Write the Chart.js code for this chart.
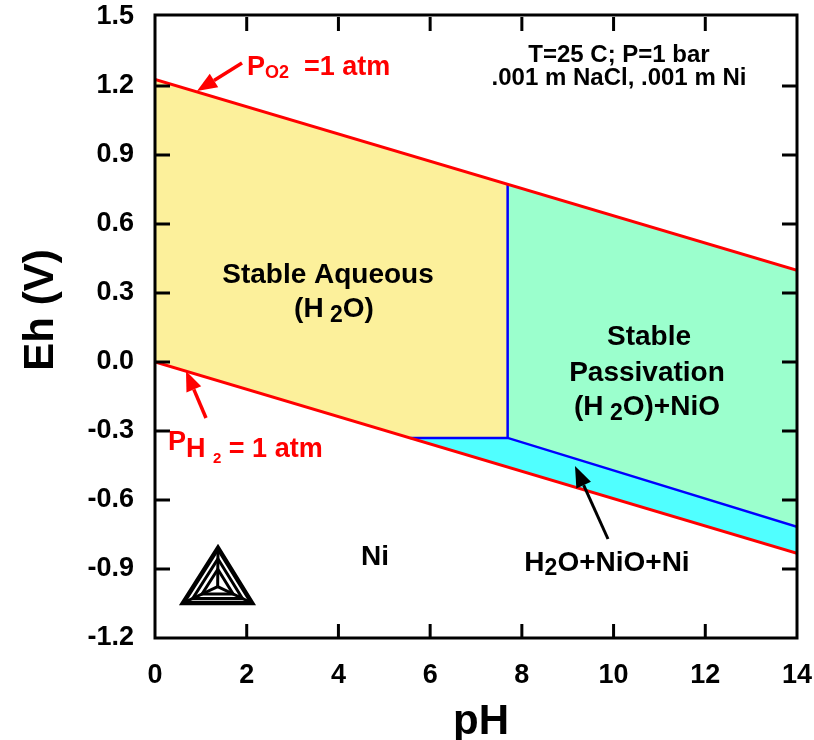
<!DOCTYPE html>
<html lang="en">
<head>
<meta charset="UTF-8">
<title>Eh-pH diagram, Ni</title>
<script src="https://cdn.jsdelivr.net/npm/chart.js@4.4.1/dist/chart.umd.min.js"></script>
<style>
  html, body { margin: 0; padding: 0; background: #fff; }
  #wrap { width: 814px; height: 740px; }
</style>
</head>
<body>
<div id="wrap"><canvas id="pourbaix" width="814" height="740"></canvas></div>
<script>
// axis ticks
const xTicks = [0, 2, 4, 6, 8, 10, 12, 14];
const yTicks = [-1.2, -0.9, -0.6, -0.3, 0.0, 0.3, 0.6, 0.9, 1.2, 1.5];

// water stability limits (pH, Eh in V)
const o2LinePH = [0, 14];
const o2LineEh = [1.228, 0.399];
const h2LinePH = [0, 14];
const h2LineEh = [0.0, -0.832];

// Ni / NiO boundaries (blue)
const niBoundPH = [5.57, 7.69, 14];
const niBoundEh = [-0.33, -0.33, -0.717];
const nioBoundPH = [7.69, 7.69];
const nioBoundEh = [0.773, -0.33];

// stability fields, polygon corners
const aqueousPH = [0, 0, 5.57, 7.69, 7.69];
const aqueousEh = [1.228, 0.0, -0.33, -0.33, 0.773];
const passivPH = [7.69, 7.69, 14, 14];
const passivEh = [0.773, -0.33, -0.717, 0.399];
const mixedPH = [5.57, 7.69, 14, 14];
const mixedEh = [-0.33, -0.33, -0.717, -0.832];

const FAM = '"Liberation Sans", Arial, sans-serif';
const RED = '#ff0000';

const pts = (xs, ys) => xs.map((x, i) => ({ x: x, y: ys[i] }));

function lineSet(xs, ys, color, w) {
    return { data: pts(xs, ys), borderColor: color, borderWidth: w, pointRadius: 0, fill: false, order: 0 };
}
function fieldSet(xs, ys, color) {
    return { data: pts(xs, ys), backgroundColor: color, borderColor: color, borderWidth: 1,
             pointRadius: 0, fill: 'shape', order: 5 };
}

// draws a line of text made of pieces: [text, size, dy]
function runs(ctx, x, y, parts, align, color) {
    ctx.fillStyle = color;
    ctx.textBaseline = 'alphabetic';
    ctx.textAlign = 'left';
    let total = 0;
    parts.forEach(p => { ctx.font = 'bold ' + p[1] + 'px ' + FAM; total += ctx.measureText(p[0]).width; });
    let cx = align === 'center' ? x - total / 2 : x;
    parts.forEach(p => {
        ctx.font = 'bold ' + p[1] + 'px ' + FAM;
        ctx.fillText(p[0], cx, y + (p[2] || 0));
        cx += ctx.measureText(p[0]).width;
    });
}

function arrow(ctx, x1, y1, x2, y2, color, w, head, half) {
    const a = Math.atan2(y2 - y1, x2 - x1);
    const hx = x2 - head * Math.cos(a), hy = y2 - head * Math.sin(a);
    ctx.strokeStyle = color;
    ctx.fillStyle = color;
    ctx.lineWidth = w;
    ctx.beginPath(); ctx.moveTo(x1, y1); ctx.lineTo(hx, hy); ctx.stroke();
    ctx.beginPath();
    ctx.moveTo(x2, y2);
    ctx.lineTo(hx + half * Math.sin(a), hy - half * Math.cos(a));
    ctx.lineTo(hx - half * Math.sin(a), hy + half * Math.cos(a));
    ctx.closePath();
    ctx.fill();
}

function seg(ctx, x1, y1, x2, y2) {
    ctx.beginPath(); ctx.moveTo(x1, y1); ctx.lineTo(x2, y2); ctx.stroke();
}

const decor = {
    id: 'decor',
    afterDatasetsDraw(chart) {
        const ctx = chart.ctx;
        const xs = chart.scales.x, ys = chart.scales.y;
        const { left, right, top, bottom } = chart.chartArea;
        ctx.save();

        // frame and inward ticks
        ctx.strokeStyle = '#000';
        ctx.lineWidth = 3;
        ctx.lineCap = 'butt';
        xTicks.slice(1, -1).forEach(v => {
            const px = xs.getPixelForValue(v);
            seg(ctx, px, bottom, px, bottom - 14);
            seg(ctx, px, top, px, top + 14);
        });
        yTicks.slice(1, -1).forEach(v => {
            const py = ys.getPixelForValue(v);
            seg(ctx, left, py, left + 15, py);
            seg(ctx, right, py, right - 15, py);
        });
        ctx.strokeRect(left, top - 2, right - left, bottom - top + 2);

        // red labels for the water limits
        runs(ctx, 247, 75, [['P', 27], ['O2', 18, 3], ['  =1 atm', 27]], 'left', RED);
        runs(ctx, 168, 457, [['P', 27, -7], ['H ', 27], ['2', 15, 6], [' = 1 atm', 27]], 'left', RED);
        arrow(ctx, 242, 63, 197, 91, RED, 3.5, 20, 8);
        arrow(ctx, 206, 418, 186, 371, RED, 3.5, 20, 8);

        // conditions
        runs(ctx, 619, 62, [['T=25 C; P=1 bar', 24]], 'center', '#000');
        runs(ctx, 619, 85, [['.001 m NaCl, .001 m Ni', 24]], 'center', '#000');

        // field names
        runs(ctx, 328, 283, [['Stable Aqueous', 28]], 'center', '#000');
        runs(ctx, 334, 317, [['(H', 28], [' 2', 23, 5], ['O)', 28]], 'center', '#000');
        runs(ctx, 649, 345, [['Stable', 28]], 'center', '#000');
        runs(ctx, 647, 381, [['Passivation', 28]], 'center', '#000');
        runs(ctx, 647, 415, [['(H', 28], [' 2', 23, 5], ['O)+NiO', 28]], 'center', '#000');
        runs(ctx, 375, 565, [['Ni', 28]], 'center', '#000');
        runs(ctx, 607, 571, [['H', 28], ['2', 23, 4], ['O+NiO+Ni', 28]], 'center', '#000');
        arrow(ctx, 608, 539, 575, 466, '#000', 3, 21, 8);

        // triangle logo
        const A = [218, 548], B = [183, 603], C = [252, 603];
        const G = [(A[0] + B[0] + C[0]) / 3, (A[1] + B[1] + C[1]) / 3 + 2];
        const shrink = (P, k) => [G[0] + (P[0] - G[0]) * k, G[1] + (P[1] - G[1]) * k];
        ctx.strokeStyle = '#000';
        ctx.lineJoin = 'miter';
        ctx.lineWidth = 4.5;
        ctx.beginPath(); ctx.moveTo(...A); ctx.lineTo(...B); ctx.lineTo(...C); ctx.closePath(); ctx.stroke();
        ctx.lineWidth = 3;
        [0.72, 0.45].forEach(k => {
            const a = shrink(A, k), b = shrink(B, k), c = shrink(C, k);
            ctx.beginPath(); ctx.moveTo(...a); ctx.lineTo(...b); ctx.lineTo(...c); ctx.closePath(); ctx.stroke();
        });
        [A, B, C].forEach(P => seg(ctx, G[0], G[1], P[0], P[1]));

        // axis titles
        ctx.fillStyle = '#000';
        ctx.font = 'bold 42px ' + FAM;
        ctx.textAlign = 'center';
        ctx.textBaseline = 'alphabetic';
        ctx.fillText('pH', 481, 734);
        ctx.translate(53, 310);
        ctx.rotate(-Math.PI / 2);
        ctx.fillText('Eh (V)', 0, 0);
        ctx.restore();
    }
};

Chart.defaults.font.family = FAM;
Chart.defaults.font.weight = 'bold';
Chart.defaults.color = '#000';

new Chart(document.getElementById('pourbaix'), {
    type: 'line',
    data: {
        datasets: [
            lineSet(o2LinePH, o2LineEh, RED, 3),
            lineSet(h2LinePH, h2LineEh, RED, 3),
            lineSet(niBoundPH, niBoundEh, '#0000ff', 2.5),
            lineSet(nioBoundPH, nioBoundEh, '#0000ff', 2.5),
            fieldSet(aqueousPH, aqueousEh, '#fcf09b'),
            fieldSet(passivPH, passivEh, '#9bffcd'),
            fieldSet(mixedPH, mixedEh, '#50ffff')
        ]
    },
    options: {
        responsive: false,
        animation: false,
        devicePixelRatio: 1,
        layout: { padding: { left: 0, right: 17, top: 17, bottom: 0 } },
        plugins: { legend: { display: false }, tooltip: { enabled: false } },
        elements: { line: { tension: 0 } },
        scales: {
            x: {
                type: 'linear', min: 0, max: 14,
                grid: { display: false, drawTicks: false }, border: { display: false },
                afterBuildTicks: s => { s.ticks = xTicks.map(v => ({ value: v })); },
                afterFit: s => { s.height = 102; s.paddingLeft = 0; s.paddingRight = 0; },
                ticks: { padding: 21, font: { size: 27, weight: 'bold' }, maxRotation: 0,
                         callback: v => String(v) }
            },
            y: {
                type: 'linear', min: -1.2, max: 1.5,
                grid: { display: false, drawTicks: false }, border: { display: false },
                afterBuildTicks: s => { s.ticks = yTicks.map(v => ({ value: v })); },
                afterFit: s => { s.width = 155; s.paddingTop = 0; s.paddingBottom = 0; },
                ticks: { padding: 21, font: { size: 27, weight: 'bold' },
                         callback: v => v.toFixed(1) }
            }
        }
    },
    plugins: [decor]
});
</script>
</body>
</html>
